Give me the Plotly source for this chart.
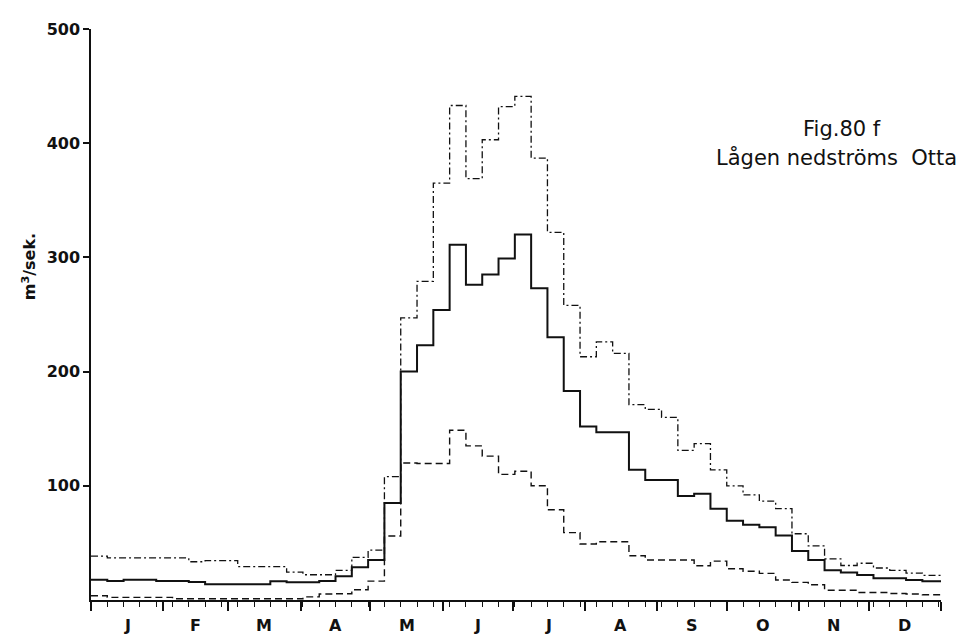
import plotly.graph_objects as go

# Weekly mean, max, min discharge (m3/s), week 1..52
weeks = list(range(52))
mean_q = [17.8, 16.7, 17.8, 17.8, 16.7, 16.7, 15.8, 13.8, 13.8, 13.8,
          13.8, 16.4, 15.5, 15.5, 16.7, 20.7, 28.7, 35.0, 85.0, 200.0,
          223.0, 254.0, 311.0, 276.0, 285.0, 299.0, 320.0, 273.0, 230.0, 183.0,
          152.0, 147.0, 147.0, 114.0, 105.0, 105.0, 91.0, 93.0, 80.0, 69.5,
          66.0, 63.8, 56.5, 43.0, 35.0, 26.0, 24.0, 22.0, 19.0, 19.0,
          17.5, 16.5]
max_q = [38.5, 36.8, 36.8, 36.8, 36.8, 36.8, 33.5, 34.5, 34.5, 29.3,
         29.3, 29.3, 24.4, 22.1, 22.1, 25.9, 37.3, 43.7, 108.0, 247.0,
         279.0, 365.0, 433.0, 369.0, 403.0, 432.0, 441.0, 387.0, 322.0, 258.0,
         213.0, 226.0, 216.0, 171.0, 167.0, 160.0, 131.0, 137.0, 114.0, 100.0,
         92.0, 86.5, 80.0, 58.0, 47.4, 36.0, 30.2, 32.2, 28.0, 26.0,
         23.6, 21.6]
min_q = [3.7, 2.3, 2.3, 2.3, 2.3, 1.1, 1.1, 1.1, 1.1, 1.1,
         1.1, 1.1, 1.1, 2.7, 5.2, 5.5, 9.0, 16.5, 56.0, 120.0,
         119.5, 119.5, 148.6, 135.0, 126.0, 110.0, 112.7, 100.0, 79.0, 59.0,
         49.0, 51.0, 51.0, 38.8, 35.0, 35.0, 35.0, 30.0, 34.0, 27.3,
         25.2, 23.3, 17.5, 15.4, 13.3, 8.6, 8.6, 6.6, 6.6, 5.7,
         5.2, 4.6]

month_labels = ["J", "F", "M", "A", "M", "J", "J", "A", "S", "O", "N", "D"]
month_starts = [0, 31, 59, 90, 120, 151, 181, 212, 243, 273, 304, 334, 365]
y_ticks = [100, 200, 300, 400, 500]

# step x positions (days); last step runs to day 365
x_steps = [7 * w for w in weeks] + [365]


def ext(v):
    return v + [v[-1]]


fig = go.Figure()
fig.add_trace(go.Scatter(x=x_steps, y=ext(max_q), mode="lines", line_shape="hv",
                         line=dict(color="#111", width=1.3, dash="7px,3px,2px,3px"),
                         showlegend=False))
fig.add_trace(go.Scatter(x=x_steps, y=ext(mean_q), mode="lines", line_shape="hv",
                         line=dict(color="#111", width=2.0),
                         showlegend=False))
fig.add_trace(go.Scatter(x=x_steps, y=ext(min_q), mode="lines", line_shape="hv",
                         line=dict(color="#111", width=1.4, dash="7px,4px"),
                         showlegend=False))

font_main = "DejaVu Sans"

# page has an 8px body margin; figure size/margins compensate for it
OFF = 8
W, H = 966 - OFF, 637 - OFF
L, T = 91 - OFF, 20 - OFF
R = W - (941 - OFF)
B = H - (600 - OFF)
plot_w = W - L - R
plot_h = H - T - B


def px(xp):
    return (xp - OFF - L) / plot_w


def py(yp):
    return (H - B - (yp - OFF)) / plot_h


fig.update_layout(
    width=W, height=H,
    margin=dict(l=L, r=R, t=T, b=B, pad=0),
    paper_bgcolor="white", plot_bgcolor="white",
    font=dict(family=font_main, color="#111", size=16),
    xaxis=dict(range=[0, 365], showgrid=False, zeroline=False,
               showline=True, linecolor="#111", linewidth=1.5,
               tickmode="array", tickvals=month_starts, showticklabels=False,
               ticks="outside", ticklen=9, tickwidth=1.5, tickcolor="#111",
               minor=dict(tick0=0, dtick=7, ticks="outside", ticklen=5,
                          tickwidth=1.2, tickcolor="#111", showgrid=False)),
    yaxis=dict(range=[0, 500], showgrid=False, zeroline=False,
               showline=True, linecolor="#111", linewidth=1.5,
               tickmode="array", tickvals=y_ticks,
               ticks="outside", ticklen=6, tickwidth=1.5, tickcolor="#111",
               tickfont=dict(size=16, family=font_main, weight="bold")),
)

for i, lab in enumerate(month_labels):
    mid = (month_starts[i] + month_starts[i + 1]) / 2
    fig.add_annotation(x=mid, y=0, xref="x", yref="paper", text=lab,
                       showarrow=False, yanchor="top", yshift=-14,
                       font=dict(size=16, family=font_main, color="#111", weight="bold"))

fig.add_annotation(x=px(29), y=py(262), xref="paper", yref="paper",
                   text="m<sup>3</sup>/sek.", showarrow=False, textangle=-90,
                   xanchor="center", yanchor="middle",
                   font=dict(size=16, family=font_main, color="#111", weight="bold"))

fig.add_annotation(x=px(842), y=py(122), xref="paper", yref="paper",
                   text="Fig.80 f", showarrow=False, xanchor="center", yanchor="middle",
                   font=dict(size=21, family=font_main, color="#111"))
fig.add_annotation(x=px(836), y=py(151), xref="paper", yref="paper",
                   text="Lågen nedströms  Otta", showarrow=False, xanchor="center", yanchor="middle",
                   font=dict(size=21, family=font_main, color="#111"))

fig.write_html("out.html")
